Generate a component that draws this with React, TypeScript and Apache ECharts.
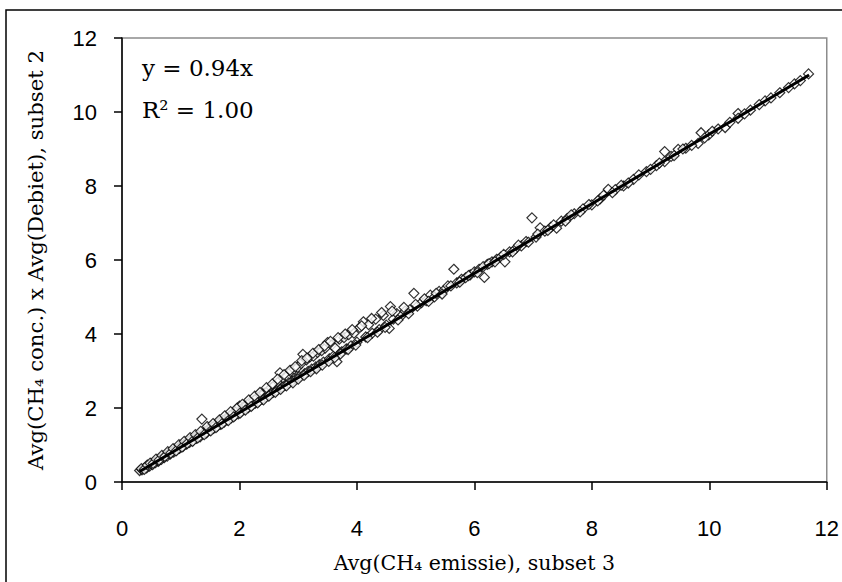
import React, { useEffect, useRef } from "react";
import * as echarts from "echarts";

const xTicks = [0, 2, 4, 6, 8, 10, 12];
const yTicks = [0, 2, 4, 6, 8, 10, 12];
const slope = 0.94;
const trendX = [0.3, 11.7];
const annotationEq = "y = 0.94x";
const annotationR2 = "R² = 1.00";
const xName = "Avg(CH₄ emissie), subset 3";
const yName = "Avg(CH₄ conc.) x Avg(Debiet), subset 2";

const points: [number, number][] = [
  [0.30, 0.31], [0.34, 0.33], [0.37, 0.36], [0.40, 0.40], [0.42, 0.38], [0.45, 0.44], [0.47, 0.43],
  [0.50, 0.49], [0.52, 0.47], [0.55, 0.53], [0.57, 0.52], [0.60, 0.58], [0.62, 0.56], [0.64, 0.62],
  [0.67, 0.61], [0.70, 0.68], [0.72, 0.66], [0.75, 0.73], [0.77, 0.70], [0.80, 0.77], [0.82, 0.75],
  [0.85, 0.82], [0.88, 0.81], [0.90, 0.88], [0.93, 0.86], [0.96, 0.93], [0.98, 0.91], [1.01, 0.98],
  [1.04, 0.96], [1.07, 1.04], [1.10, 1.02], [1.12, 1.10], [1.15, 1.07], [1.18, 1.16], [1.21, 1.12],
  [1.24, 1.21], [1.27, 1.18], [1.30, 1.26], [1.33, 1.22], [1.36, 1.70], [1.38, 1.30], [1.41, 1.36],
  [1.44, 1.33], [1.47, 1.43], [1.50, 1.40], [1.53, 1.49], [1.56, 1.45], [1.59, 1.55], [1.62, 1.50],
  [1.65, 1.61], [1.68, 1.56], [1.71, 1.66], [1.74, 1.62], [1.77, 1.72], [1.80, 1.68], [1.83, 1.78],
  [1.86, 1.73], [1.89, 1.86], [1.92, 1.79], [1.95, 1.92], [1.98, 1.84], [2.00, 2.05], [2.03, 1.90],
  [2.06, 2.02], [2.09, 1.97], [2.12, 2.08], [2.15, 2.01], [2.18, 2.16], [2.21, 2.07], [2.24, 2.20],
  [2.27, 2.13], [2.30, 2.28], [2.33, 2.18], [2.36, 2.34], [2.39, 2.24], [2.42, 2.40], [2.45, 2.30],
  [2.48, 2.46], [2.51, 2.36], [2.54, 2.55], [2.57, 2.42], [2.60, 2.62], [2.63, 2.47], [2.66, 2.70],
  [2.69, 2.95], [2.72, 2.56], [2.75, 2.80], [2.78, 2.62], [2.81, 2.86], [2.84, 2.68], [2.87, 2.98],
  [2.90, 2.73], [2.93, 3.05], [2.96, 2.79], [2.99, 3.10], [3.02, 2.85], [3.05, 3.20], [3.08, 3.45],
  [3.11, 2.93], [3.14, 3.30], [3.17, 2.99], [3.20, 3.38], [3.23, 3.05], [3.26, 3.40], [3.30, 3.11],
  [3.33, 3.50], [3.36, 3.17], [3.40, 3.55], [3.43, 3.24], [3.46, 3.62], [3.50, 3.77], [3.53, 3.33],
  [3.57, 3.70], [3.60, 3.40], [3.63, 3.62], [3.66, 3.25], [3.70, 3.86], [3.74, 3.52], [3.78, 3.90],
  [3.82, 3.60], [3.86, 3.98], [3.90, 3.68], [3.95, 4.02], [4.00, 3.78], [4.05, 4.18], [4.11, 4.33],
  [4.15, 3.92], [4.20, 4.25], [4.26, 4.02], [4.32, 4.40], [4.38, 4.12], [4.45, 4.50], [4.50, 4.24],
  [4.55, 4.15], [4.57, 4.74], [4.62, 4.40], [4.68, 4.55], [4.75, 4.48], [4.82, 4.62], [4.90, 4.65],
  [4.97, 5.10], [5.03, 4.75], [5.10, 4.85], [5.18, 4.90], [5.25, 5.05], [5.32, 5.00], [5.40, 5.15],
  [5.48, 5.18], [5.55, 5.30], [5.65, 5.75], [5.70, 5.38], [5.78, 5.48], [5.85, 5.52], [5.93, 5.60],
  [6.00, 5.68], [6.08, 5.75], [6.17, 5.53], [6.22, 5.88], [6.30, 5.95], [6.38, 6.02], [6.45, 6.08],
  [6.52, 5.95], [6.60, 6.22], [6.70, 6.30], [6.80, 6.38], [6.88, 6.50], [6.98, 7.14], [7.05, 6.62],
  [7.12, 6.87], [7.20, 6.78], [7.30, 6.88], [7.40, 6.86], [7.48, 7.05], [7.58, 7.12], [7.70, 7.25],
  [7.85, 7.38], [8.00, 7.49], [8.14, 7.65], [8.28, 7.91], [8.40, 7.90], [8.54, 8.00], [8.71, 8.18],
  [8.93, 8.39], [9.10, 8.55], [9.24, 8.93], [9.24, 8.66], [9.35, 8.80], [9.47, 8.99], [9.60, 9.02],
  [9.81, 9.15], [9.86, 9.44], [9.99, 9.38], [10.15, 9.54], [10.27, 9.58], [10.49, 9.96], [10.49, 9.83],
  [10.70, 10.05], [10.95, 10.30], [11.20, 10.52], [11.45, 10.76], [11.69, 11.03],
  [0.33, 0.36], [0.38, 0.34], [0.43, 0.46], [0.48, 0.51], [0.53, 0.50], [0.58, 0.62], [0.63, 0.59],
  [0.68, 0.72], [0.73, 0.69], [0.78, 0.82], [0.83, 0.78], [0.87, 0.90], [0.92, 0.84], [0.97, 1.01],
  [1.02, 0.94], [1.06, 1.10], [1.11, 1.04], [1.16, 1.20], [1.20, 1.10], [1.25, 1.28], [1.29, 1.19],
  [1.34, 1.37], [1.40, 1.28], [1.45, 1.50], [1.51, 1.38], [1.55, 1.58], [1.60, 1.47], [1.66, 1.68],
  [1.70, 1.57], [1.75, 1.79], [1.81, 1.66], [1.85, 1.90], [1.90, 1.76], [1.96, 2.00], [2.01, 1.86],
  [2.05, 2.10], [2.10, 1.94], [2.16, 2.22], [2.20, 2.04], [2.26, 2.32], [2.31, 2.14], [2.35, 2.42],
  [2.41, 2.22], [2.46, 2.55], [2.50, 2.32], [2.56, 2.65], [2.61, 2.42], [2.65, 2.78], [2.70, 2.50],
  [2.76, 2.90], [2.80, 2.60], [2.86, 3.02], [2.91, 2.68], [2.95, 3.12], [3.00, 2.78], [3.06, 3.28],
  [3.10, 2.88], [3.15, 3.35], [3.21, 2.98], [3.25, 3.48], [3.31, 3.06], [3.35, 3.58], [3.41, 3.16],
  [3.45, 3.68], [3.52, 3.26], [3.55, 3.80], [3.62, 3.36], [3.68, 3.90], [3.72, 3.46], [3.80, 4.00],
  [3.85, 3.58], [3.92, 4.12], [3.98, 3.70], [4.08, 4.22], [4.18, 3.90], [4.25, 4.42], [4.35, 4.05],
  [4.42, 4.58], [4.48, 4.18], [4.60, 4.62], [4.70, 4.38], [4.80, 4.72], [4.88, 4.55], [5.00, 4.80],
  [5.15, 4.95], [5.22, 4.88], [5.35, 5.10], [5.45, 5.08], [5.60, 5.30], [5.75, 5.40], [5.90, 5.58],
  [6.05, 5.66], [6.15, 5.82], [6.25, 5.90], [6.35, 5.95], [6.50, 6.15], [6.65, 6.22], [6.75, 6.40],
  [6.92, 6.48], [7.08, 6.70], [7.25, 6.80], [7.35, 6.95], [7.55, 7.05], [7.65, 7.22], [7.80, 7.30],
  [7.95, 7.50], [8.10, 7.60], [8.20, 7.75], [8.35, 7.82], [8.50, 8.02], [8.62, 8.08], [8.80, 8.30],
  [9.00, 8.45], [9.15, 8.62], [9.40, 8.82], [9.55, 9.00], [9.70, 9.10], [9.92, 9.30], [10.05, 9.48],
  [10.35, 9.72], [10.60, 9.95], [10.85, 10.20], [11.05, 10.38], [11.35, 10.66], [11.55, 10.85],
];

const serif = "'DejaVu Serif', 'Liberation Serif', serif";
const sans = "'Liberation Sans', Arial, sans-serif";

export default function App() {
  const ref = useRef<HTMLDivElement>(null);
  useEffect(() => {
    if (!ref.current) return;
    const chart = echarts.init(ref.current, undefined, { renderer: "svg" });
    const trendData = trendX.map((x) => [x, slope * x]);
    chart.setOption({
      animation: false,
      backgroundColor: "#ffffff",
      grid: {
        left: 122,
        top: 38,
        right: 10,
        bottom: 100,
        show: true,
        borderColor: "#8c8c8c",
        borderWidth: 1.5,
        backgroundColor: "transparent",
      },
      xAxis: {
        type: "value",
        min: xTicks[0],
        max: xTicks[xTicks.length - 1],
        interval: 2,
        name: xName,
        nameLocation: "middle",
        nameGap: 70,
        nameTextStyle: { fontFamily: serif, fontSize: 20.5, color: "#000" },
        splitLine: { show: false },
        axisLine: { show: true, onZero: false, lineStyle: { color: "#000", width: 1.5 } },
        axisTick: { show: true, inside: false, length: 8, lineStyle: { color: "#000", width: 1.5 } },
        axisLabel: { color: "#000", fontFamily: sans, fontSize: 22, margin: 35 },
      },
      yAxis: {
        type: "value",
        min: yTicks[0],
        max: yTicks[yTicks.length - 1],
        interval: 2,
        name: yName,
        nameLocation: "middle",
        nameGap: 76,
        nameRotate: 90,
        nameTextStyle: { fontFamily: serif, fontSize: 21.2, color: "#000" },
        splitLine: { show: false },
        axisLine: { show: true, onZero: false, lineStyle: { color: "#000", width: 1.5 } },
        axisTick: { show: true, inside: false, length: 8, lineStyle: { color: "#000", width: 1.5 } },
        axisLabel: { color: "#000", fontFamily: sans, fontSize: 22, margin: 25 },
      },
      graphic: [
        {
          type: "rect",
          shape: { x: 6, y: 10, width: 860, height: 600 },
          style: { fill: "none", stroke: "#000", lineWidth: 1.5 },
          silent: true,
          z: 0,
        },
        {
          type: "text",
          left: 142,
          top: 56,
          style: { text: annotationEq, fontFamily: serif, fontSize: 23, fill: "#000" },
        },
        {
          type: "text",
          left: 142,
          top: 98,
          style: { text: annotationR2, fontFamily: serif, fontSize: 23, fill: "#000" },
        },
      ],
      series: [
        {
          type: "scatter",
          data: points,
          symbol: "diamond",
          symbolSize: 10,
          itemStyle: { color: "#ffffff", borderColor: "#000", borderWidth: 1.2 },
          z: 2,
        },
        {
          type: "line",
          data: trendData,
          symbol: "none",
          lineStyle: { color: "#000", width: 3 },
          z: 3,
        },
      ],
    });
    return () => chart.dispose();
  }, []);
  return (
    <div
      ref={ref}
      style={{ position: "absolute", left: 0, top: 0, width: 842, height: 582 }}
    />
  );
}
